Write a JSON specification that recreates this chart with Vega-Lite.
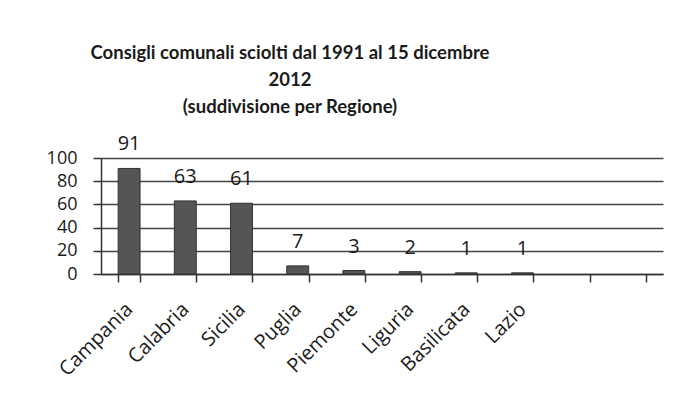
{
  "$schema": "https://vega.github.io/schema/vega-lite/v6.json",
  "width": 562,
  "height": 116,
  "autosize": {"type": "none"},
  "padding": {"left": 101, "top": 158, "right": 20, "bottom": 140},
  "background": "white",
  "title": {
    "text": ["Consigli comunali sciolti dal 1991 al 15 dicembre", "2012", "(suddivisione per Regione)"],
    "font": "Lato",
    "fontSize": 18.5,
    "fontWeight": "bold",
    "color": "#1a1a1a",
    "lineHeight": 27,
    "anchor": "middle",
    "frame": "group",
    "dx": -92,
    "offset": 18
  },
  "data": {
    "values": [
      {"regione": "Campania", "n": 91},
      {"regione": "Calabria", "n": 63},
      {"regione": "Sicilia", "n": 61},
      {"regione": "Puglia", "n": 7},
      {"regione": "Piemonte", "n": 3},
      {"regione": "Liguria", "n": 2},
      {"regione": "Basilicata", "n": 1},
      {"regione": "Lazio", "n": 1}
    ]
  },
  "encoding": {
    "x": {
      "field": "regione",
      "type": "nominal",
      "sort": null,
      "scale": {
        "domain": ["Campania", "Calabria", "Sicilia", "Puglia", "Piemonte", "Liguria", "Basilicata", "Lazio", "_9", "_10"],
        "paddingInner": 0.61,
        "paddingOuter": 0.305
      },
      "axis": {
        "title": null,
        "labelExpr": "indexof(datum.label, '_') == 0 ? '' : datum.label",
        "labelAngle": -45,
        "labelAlign": "right",
        "labelBaseline": "middle",
        "labelFont": "Open Sans",
        "labelFontSize": 20,
        "labelColor": "#1a1a1a",
        "labelPadding": 24,
        "tickBand": "extent",
        "tickSize": 8,
        "tickColor": "#333",
        "tickWidth": 1.5,
        "domainColor": "#333",
        "domainWidth": 1.5,
        "grid": false
      }
    },
    "y": {
      "field": "n",
      "type": "quantitative",
      "scale": {"domain": [0, 100]},
      "axis": {
        "title": null,
        "values": [0, 20, 40, 60, 80, 100],
        "labelFont": "Open Sans",
        "labelFontSize": 18,
        "labelColor": "#1a1a1a",
        "labelPadding": 16,
        "tickSize": 8,
        "tickColor": "#333",
        "tickWidth": 1.5,
        "domainColor": "#333",
        "domainWidth": 1.5,
        "grid": true,
        "gridColor": "#444",
        "gridWidth": 1.5,
        "gridOpacity": 1
      }
    }
  },
  "layer": [
    {"mark": {"type": "bar", "color": "#555", "stroke": "#333", "strokeWidth": 1}},
    {
      "mark": {"type": "text", "font": "Open Sans", "fontSize": 20, "color": "#1a1a1a", "baseline": "alphabetic", "dy": -18},
      "encoding": {"text": {"field": "n", "type": "quantitative"}}
    }
  ],
  "config": {"view": {"stroke": null}}
}
